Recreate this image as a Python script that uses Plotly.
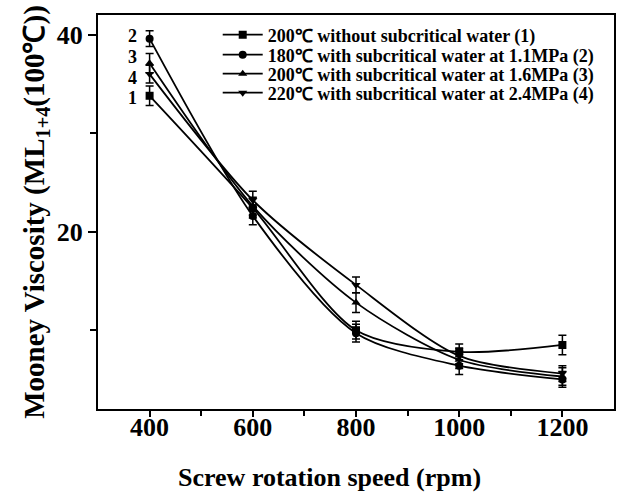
import plotly.graph_objects as go

speed = [400, 600, 800, 1000, 1200]
names = [
    "200℃ without subcritical water (1)",
    "180℃ with subcritical water at 1.1MPa (2)",
    "200℃ with subcritical water at 1.6MPa (3)",
    "220℃ with subcritical water at 2.4MPa (4)",
]
s1 = [33.8, 22.4, 10.0, 7.8, 8.5]
s2 = [39.6, 21.6, 9.7, 6.4, 5.0]
s3 = [37.1, 22.6, 12.8, 7.0, 5.3]
s4 = [36.0, 23.2, 14.6, 7.4, 5.6]
e1 = [1.0, 1.0, 0.9, 0.8, 1.0]
e2 = [0.8, 0.9, 0.9, 0.9, 0.8]
e3 = [1.0, 0.9, 1.0, 0.9, 0.9]
e4 = [0.9, 0.9, 0.8, 0.8, 0.8]
symbols = ["square", "circle", "triangle-up", "triangle-down"]
curve_labels = ["1", "2", "3", "4"]
label_y = [33.6, 39.9, 37.7, 35.6]

series = [s1, s2, s3, s4]
errors = [e1, e2, e3, e4]
legend_ids = ["legend", "legend2", "legend3", "legend4"]
legend_rows_px = [35, 55, 74, 93]

fig = go.Figure()
for name, ys, es, sym, lid in zip(names, series, errors, symbols, legend_ids):
    fig.add_trace(go.Scatter(
        x=speed, y=ys, name=name, mode="lines+markers", legend=lid,
        line=dict(color="black", width=1.8, shape="spline", smoothing=0.8),
        marker=dict(symbol=sym, size=8, color="black"),
        error_y=dict(type="data", array=es, visible=True, color="black",
                     thickness=1.5, width=4),
    ))

for lab, ly in zip(curve_labels, label_y):
    fig.add_annotation(x=366, y=ly, text=lab, showarrow=False,
                       font=dict(family="Liberation Serif", size=18, color="black", weight="bold"),
                       xanchor="center", yanchor="middle")

plot_top, plot_h = 15, 394
leg_common = dict(x=0.232, xanchor="left", yanchor="middle",
                  bgcolor="rgba(0,0,0,0)", borderwidth=0,
                  font=dict(family="Liberation Serif", size=18, color="black", weight="bold"),
                  itemwidth=40)
layout_legends = {}
for lid, py in zip(legend_ids, legend_rows_px):
    layout_legends[lid] = dict(leg_common, y=(plot_top + plot_h - py) / plot_h)

fig.add_annotation(xref="paper", yref="paper", x=0.448, y=-0.175,
                   xanchor="center", yanchor="middle", showarrow=False,
                   text="<b>Screw rotation speed (rpm)</b>",
                   font=dict(family="Liberation Serif", size=26, color="black"))

fig.update_layout(
    width=618, height=498,
    margin=dict(l=98, r=2, t=15, b=89),
    plot_bgcolor="white", paper_bgcolor="white",
    font=dict(family="Liberation Serif", color="black"),
    showlegend=True,
    **layout_legends,
)
fig.update_xaxes(
    range=[300, 1300], tickvals=[400, 600, 800, 1000, 1200],
    ticks="outside", ticklen=6, tickwidth=1.5, tickcolor="black",
    showline=True, linecolor="black", linewidth=2, mirror=True,
    showgrid=False, zeroline=False,
    tickfont=dict(family="Liberation Serif", size=26, color="black", weight="bold"),
    ticklabelstandoff=-12,
    minor=dict(tickvals=[500, 700, 900, 1100], ticks="outside", ticklen=5,
               tickwidth=1.5, tickcolor="black"),
)
fig.update_yaxes(
    range=[2, 42], tickvals=[20, 40],
    ticks="outside", ticklen=8, tickwidth=1.5, tickcolor="black",
    showline=True, linecolor="black", linewidth=2, mirror=True,
    showgrid=False, zeroline=False,
    tickfont=dict(family="Liberation Serif", size=26, color="black", weight="bold"),
    minor=dict(tickvals=[10, 30], ticks="outside", ticklen=6,
               tickwidth=1.5, tickcolor="black"),
    title=dict(text="<b>Mooney Viscosity (ML<sub>1+4</sub>(100℃))</b>",
               font=dict(family="Liberation Serif", size=29, color="black"), standoff=4),
)
fig.write_html("out.html")
